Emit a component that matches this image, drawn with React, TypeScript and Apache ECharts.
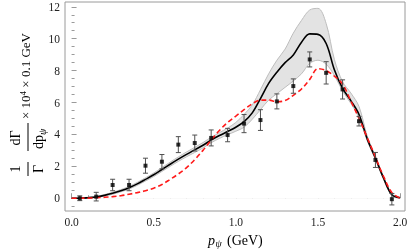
import React, { useEffect, useRef } from "react";
import * as echarts from "echarts";

// momentum grid (GeV) for the theory curves
const pGrid = [
  0.0, 0.05, 0.1, 0.15, 0.2, 0.25, 0.3, 0.35, 0.4, 0.45, 0.5, 0.55, 0.6, 0.65, 0.7, 0.75, 0.8, 0.85, 0.9, 0.95, 1.0,
  1.05, 1.1, 1.15, 1.2, 1.25, 1.3, 1.35, 1.4, 1.45, 1.5, 1.55, 1.6, 1.65, 1.7, 1.75, 1.8, 1.85, 1.9, 1.95, 2.0,
];
// central (black) curve
const centralFit = [
  0.0, 0.0, 0.03, 0.08, 0.18, 0.31, 0.47, 0.66, 0.9, 1.18, 1.47, 1.8, 2.13, 2.45, 2.75, 3.03, 3.32, 3.65, 3.93, 4.18,
  4.45, 4.8, 5.35, 6.25, 7.2, 7.9, 8.5, 8.98, 9.78, 10.3, 10.27, 9.7, 8.05, 6.88, 6.12, 5.25, 3.72, 2.52, 1.25, 0.22,
  0.03,
];
// uncertainty band
const bandLower = [
  0.0, 0.0, 0.0, 0.04, 0.13, 0.25, 0.4, 0.58, 0.81, 1.08, 1.36, 1.68, 2.0, 2.31, 2.6, 2.87, 3.15, 3.48, 3.75, 3.98,
  4.2, 4.45, 4.95, 5.55, 6.15, 6.55, 6.95, 7.35, 7.8, 8.45, 8.65, 8.4, 7.7, 6.72, 5.95, 5.05, 3.6, 2.42, 1.17, 0.16,
  0.0,
];
const bandUpper = [
  0.02, 0.03, 0.06, 0.12, 0.23, 0.37, 0.54, 0.74, 0.99, 1.28, 1.58, 1.92, 2.26, 2.59, 2.9, 3.19, 3.49, 3.82, 4.11, 4.4,
  4.75, 5.25, 5.85, 6.8, 7.8, 8.65, 9.35, 10.35, 11.15, 11.8, 11.9, 10.95, 8.7, 7.3, 6.6, 5.75, 3.9, 2.62, 1.33, 0.28,
  0.06,
];
// red dashed curve
const altModel = [
  0.0, 0.0, 0.01, 0.03, 0.06, 0.1, 0.16, 0.25, 0.35, 0.47, 0.63, 0.86, 1.18, 1.52, 1.92, 2.42, 3.0, 3.65, 4.25, 4.75,
  5.15, 5.55, 5.92, 6.15, 6.15, 6.05, 6.12, 6.45, 6.85, 7.45, 8.12, 8.0, 7.65, 7.15, 6.1, 5.0, 3.8, 2.58, 1.35, 0.35,
  0.0,
];
// measured points
const dataP = [
  0.05, 0.15, 0.25, 0.35, 0.45, 0.55, 0.65, 0.75, 0.85, 0.95, 1.05, 1.15, 1.25, 1.35, 1.45, 1.55, 1.65, 1.75, 1.85, 1.95,
];
const dataY = [
  0.0, 0.1, 0.83, 0.83, 2.04, 2.29, 3.36, 3.46, 3.78, 3.96, 4.68, 4.9, 6.07, 7.03, 8.7, 7.86, 6.82, 4.83, 2.4, -0.06,
];
const dataErr = [
  0.15, 0.27, 0.36, 0.36, 0.47, 0.45, 0.5, 0.5, 0.5, 0.42, 0.57, 0.65, 0.47, 0.45, 0.47, 0.7, 0.6, 0.3, 0.47, 0.36,
];
// ticks
const xMajorTicks = [0, 0.5, 1.0, 1.5, 2.0];
const xMinorTicks = [0.1, 0.2, 0.3, 0.4, 0.6, 0.7, 0.8, 0.9, 1.1, 1.2, 1.3, 1.4, 1.6, 1.7, 1.8, 1.9];
const yMajorTicks = [0, 2, 4, 6, 8, 10, 12];
const yMinorTicks = [-0.5, 0.5, 1, 1.5, 2.5, 3, 3.5, 4.5, 5, 5.5, 6.5, 7, 7.5, 8.5, 9, 9.5, 10.5, 11, 11.5];

const SERIF = '"Liberation Serif", "Times New Roman", serif';
const FRAME = "#9a9a9a";
const LABEL = "#222";
const SMOOTH = 0.35;

export default function App() {
  const ref = useRef<HTMLDivElement>(null);
  useEffect(() => {
    if (!ref.current) return;
    const chart = echarts.init(ref.current, null, { renderer: "svg" });

    const xBase = {
      type: "value",
      min: -0.04,
      max: 2.03,
      gridIndex: 0,
      position: "bottom",
      axisLine: { show: false },
      splitLine: { show: false },
    };
    const yBase = {
      type: "value",
      min: -0.8,
      max: 12.3,
      gridIndex: 0,
      position: "left",
      axisLine: { show: false },
      splitLine: { show: false },
    };

    const errRender = (params: any, api: any) => {
      const x = api.value(0);
      const y = api.value(1);
      const e = api.value(2);
      const top = api.coord([x, y + e]);
      const bot = api.coord([x, y - e]);
      const st = { stroke: "#505050", lineWidth: 1 };
      const cw = 2.5;
      return {
        type: "group",
        children: [
          { type: "line", shape: { x1: top[0], y1: top[1], x2: bot[0], y2: bot[1] }, style: st },
          { type: "line", shape: { x1: top[0] - cw, y1: top[1], x2: top[0] + cw, y2: top[1] }, style: st },
          { type: "line", shape: { x1: bot[0] - cw, y1: bot[1], x2: bot[0] + cw, y2: bot[1] }, style: st },
        ],
      };
    };

    const tFont = `14px ${SERIF}`;
    const mFont = `13px ${SERIF}`;
    const option: any = {
      animation: false,
      grid: {
        left: 65,
        right: 4,
        top: 2,
        bottom: 40,
        show: true,
        borderColor: FRAME,
        borderWidth: 1,
        backgroundColor: "transparent",
        containLabel: false,
        outerBoundsMode: "none",
      },
      xAxis: [
        {
          ...xBase,
          axisTick: { show: true, inside: true, length: 5, customValues: xMajorTicks, lineStyle: { color: FRAME } },
          axisLabel: {
            customValues: xMajorTicks,
            formatter: (v: number) => v.toFixed(1),
            margin: 5,
            fontFamily: SERIF,
            fontSize: 11.5,
            color: LABEL,
          },
        },
        {
          ...xBase,
          axisTick: { show: true, inside: true, length: 3, customValues: xMinorTicks, lineStyle: { color: FRAME } },
          axisLabel: { show: false },
        },
      ],
      yAxis: [
        {
          ...yBase,
          axisTick: { show: true, inside: true, length: 5, customValues: yMajorTicks, lineStyle: { color: FRAME } },
          axisLabel: {
            customValues: yMajorTicks,
            margin: 5,
            fontFamily: SERIF,
            fontSize: 11.5,
            color: LABEL,
          },
        },
        {
          ...yBase,
          axisTick: { show: true, inside: true, length: 3, customValues: yMinorTicks, lineStyle: { color: FRAME } },
          axisLabel: { show: false },
        },
      ],
      series: [
        {
          type: "line",
          data: pGrid.map((x, i) => [x, bandUpper[i]]),
          smooth: SMOOTH,
          symbol: "none",
          lineStyle: { color: "#bdbdbd", width: 1 },
          areaStyle: { color: "#e3e3e3", opacity: 1, origin: 0 },
          silent: true,
          z: 1,
        },
        {
          type: "line",
          data: pGrid.map((x, i) => [x, bandLower[i]]),
          smooth: SMOOTH,
          symbol: "none",
          lineStyle: { color: "#bdbdbd", width: 1 },
          areaStyle: { color: "#ffffff", opacity: 1, origin: 0 },
          silent: true,
          z: 1,
        },
        {
          type: "line",
          data: pGrid.map((x, i) => [x, centralFit[i]]),
          smooth: SMOOTH,
          symbol: "none",
          lineStyle: { color: "#000", width: 1.6 },
          z: 3,
        },
        {
          type: "line",
          data: pGrid.map((x, i) => [x, altModel[i]]),
          smooth: SMOOTH,
          symbol: "none",
          lineStyle: { color: "#ff1a1a", width: 1.6, type: [5, 3] },
          z: 4,
        },
        {
          type: "custom",
          renderItem: errRender,
          data: dataP.map((x, i) => [x, dataY[i], dataErr[i]]),
          z: 5,
        },
        {
          type: "scatter",
          data: dataP.map((x, i) => [x, dataY[i]]),
          symbol: "rect",
          symbolSize: 4,
          itemStyle: { color: "#000" },
          z: 6,
        },
      ],
      graphic: [
        {
          type: "group",
          x: 28,
          y: 200,
          rotation: Math.PI / 2,
          children: [
            { type: "text", x: 31, y: -13, style: { text: "1", font: tFont, fill: "#000", align: "center", verticalAlign: "middle" } },
            { type: "line", shape: { x1: 24, y1: 0, x2: 38, y2: 0 }, style: { stroke: "#000", lineWidth: 1 } },
            { type: "text", x: 31, y: 10, style: { text: "Γ", font: tFont, fill: "#000", align: "center", verticalAlign: "middle" } },
            { type: "text", x: 62, y: -13, style: { text: "dΓ", font: tFont, fill: "#000", align: "center", verticalAlign: "middle" } },
            { type: "line", shape: { x1: 49, y1: 0, x2: 77, y2: 0 }, style: { stroke: "#000", lineWidth: 1 } },
            { type: "text", x: 51, y: 10, style: { text: "dp", font: tFont, fill: "#000", align: "left", verticalAlign: "middle" } },
            { type: "text", x: 65, y: 14, style: { text: "ψ", font: `italic 10px ${SERIF}`, fill: "#000", align: "left", verticalAlign: "middle" } },
            {
              type: "text",
              x: 81,
              y: -3,
              style: {
                text: "{a|× 10}{s|4}{a| × 0.1 GeV}",
                align: "left",
                verticalAlign: "middle",
                rich: {
                  a: { font: mFont, fill: "#000", verticalAlign: "bottom" },
                  s: { font: `9px ${SERIF}`, fill: "#000", verticalAlign: "top" },
                },
              },
            },
          ],
        },
        { type: "text", x: 208, y: 240, style: { text: "p", font: `italic 14px ${SERIF}`, fill: "#000", verticalAlign: "middle" } },
        { type: "text", x: 215.5, y: 243.5, style: { text: "ψ", font: `italic 10px ${SERIF}`, fill: "#000", verticalAlign: "middle" } },
        { type: "text", x: 227, y: 240, style: { text: "(GeV)", font: tFont, fill: "#000", verticalAlign: "middle" } },
      ],
    };
    chart.setOption(option);
    return () => chart.dispose();
  }, []);
  return <div ref={ref} style={{ position: "fixed", left: 0, top: 0, width: 409, height: 251 }} />;
}
